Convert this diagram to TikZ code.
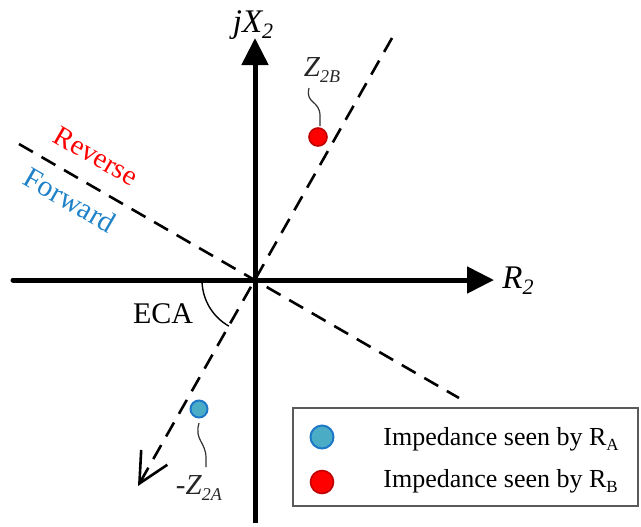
\documentclass[tikz,border=0pt]{standalone}
\usepackage{fontspec}
\setmainfont{Liberation Serif}
\usetikzlibrary{arrows.meta}
\definecolor{fwdblue}{RGB}{31,130,200}
\definecolor{dotblue}{RGB}{75,172,198}
\definecolor{dotblueb}{RGB}{30,120,200}
\definecolor{dotred}{RGB}{255,0,0}
\definecolor{dotredb}{RGB}{192,0,0}
\definecolor{legline}{RGB}{90,90,90}
\newcommand\lowsub[2]{\raisebox{-0.45ex}{\fontsize{#1}{#1}\selectfont #2}}
\begin{document}
\begin{tikzpicture}[x=0.5pt,y=-0.5pt,
  axis/.style={line width=2.5pt,-{Triangle[length=13.5pt,width=13pt]}},
  dline/.style={line width=1.3pt,dash pattern=on 8pt off 5pt},
  dotA/.style={circle,fill=dotblue,draw=dotblueb,line width=1pt,inner sep=0pt,minimum size=#1},
  dotB/.style={circle,fill=dotred,draw=dotredb,line width=0.8pt,inner sep=0pt,minimum size=#1},
  squig/.style={line width=0.6pt,black!80},
  lbl/.style={inner sep=0pt,font=\fontsize{14}{16}\selectfont},
  legtxt/.style={inner sep=0pt,anchor=base west,font=\fontsize{13}{15}\selectfont}]
\useasboundingbox (0,0) rectangle (641,526);
% axes
\coordinate (O) at (255,280);
\coordinate (xl) at (13,280);
\coordinate (xr) at (494,280);
\coordinate (yb) at (255,523);
\coordinate (yt) at (255,38);
\draw[axis,line cap=round] (xl) -- (xr);
\draw[axis] (yb) -- (yt);
% dashed characteristic lines
\coordinate (d1u) at (392,38);
\coordinate (d1l) at (138,486);
\coordinate (d2u) at (19,144);
\coordinate (d2l) at (459,398);
\draw[dline,-{Straight Barb[length=15pt,width=15pt,line width=1.3pt]}] (d1u) -- (d1l);
\draw[dline] (d2u) -- (d2l);
% ECA arc
\draw[line width=0.7pt] (O) ++(-53,0) arc[start angle=180,end angle=119.5,radius=53];
\node[inner sep=0pt,anchor=base,font=\fontsize{15}{17}\selectfont] (eca) at (163,323) {ECA};
% Reverse / Forward
\node[inner sep=0pt,rotate=-30,text=red,font=\fontsize{14.2}{16}\selectfont] (rev) at (96,156) {Reverse};
\node[inner sep=0pt,rotate=-30,text=fwdblue,font=\fontsize{14.8}{16}\selectfont] (fwd) at (70,200) {Forward};
% axis labels
\node[inner sep=0pt,anchor=base,font=\fontsize{16.5}{18}\selectfont\itshape] (jx) at (253,32) {jX\lowsub{11}{2}};
\node[inner sep=0pt,anchor=base west,font=\fontsize{16.5}{18}\selectfont\itshape] (r2) at (502,288) {R\lowsub{11}{2}};
% impedance points
\node[dotB=9pt] (zB) at (318,137) {};
\node[dotA=8.5pt] (zA) at (199,409) {};
\node[lbl,font=\fontsize{14.5}{16}\selectfont\itshape,text=black!85] (lzB) at (322,70) {Z\lowsub{9}{2B}};
\node[lbl,font=\fontsize{14.5}{16}\selectfont,text=black!85] (lzA) at (199,488) {-\textit{Z}\lowsub{9}{\textit{2A}}};
\coordinate (sB1) at (309,88);
\coordinate (sB2) at (320,126);
\draw[squig] (sB1) .. controls (305,104) and (320,100) .. (320,116) -- (sB2);
\coordinate (sA1) at (199,423);
\coordinate (sA2) at (206,467);
\draw[squig] (sA1) .. controls (194,440) and (206,442) .. (206,458) -- (sA2);
% legend
\node[draw=legline,line width=0.75pt,minimum width=172.5pt,minimum height=49pt,inner sep=0pt] (leg) at (465.5,457) {};
\node[dotA=11.5pt] (lgA) at (322,437) {};
\node[dotB=11.5pt] (lgB) at (322,482) {};
\node[legtxt] (tA) at (383,445) {Impedance seen by R\lowsub{8.5}{A}};
\node[legtxt] (tB) at (383,487) {Impedance seen by R\lowsub{8.5}{B}};
\end{tikzpicture}
\end{document}
